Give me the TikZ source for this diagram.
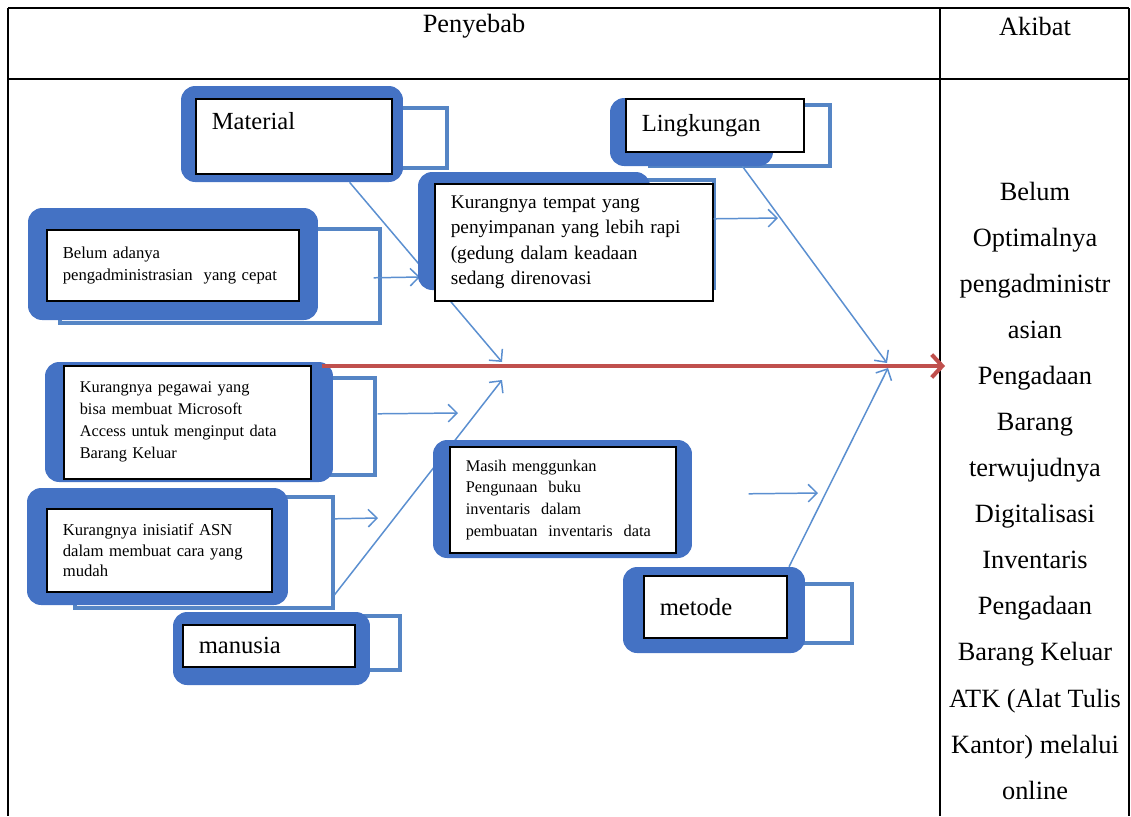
\documentclass[tikz,border=0pt]{standalone}
\usepackage{fontspec}
\setmainfont{Liberation Serif}
\usetikzlibrary{arrows.meta}
\usetikzlibrary{positioning}
\definecolor{boxblue}{HTML}{4472C4}
\definecolor{frameblue}{HTML}{5585C5}
\definecolor{boneblue}{HTML}{5B8FD0}
\definecolor{bonered}{HTML}{C0504D}
\tikzset{
  blue_box/.style = {
    fill = boxblue, rounded corners = 8pt, inner sep = 0pt  },
  in_box/.style = {
    draw, line width = 0.9pt, fill = white, anchor = north west,
    inner xsep = 0.32cm, inner ysep = 0pt, align = left  }
}

\begin{document}
\begin{tikzpicture}[x=0.02cm, y=-0.02cm,
tab_line/.style={draw=black, line width=0.7pt},
out_frame/.style={draw=frameblue, line width=2.2pt},
bone_style/.style={draw=boneblue, line width=0.85pt, -{Straight Barb[length=5pt,width=10pt]}},
main_bone/.style={draw=bonered, line width=2.3pt, -{Straight Barb[length=6pt,width=13pt]}},
head_txt/.style={font=\fontsize{15}{18}\selectfont, inner sep=0pt},
big_txt/.style={font=\fontsize{14}{17}\selectfont},
mid_txt/.style={font=\fontsize{11}{14.5}\selectfont},
small_txt/.style={font=\fontsize{9.3}{12.5}\selectfont},
res_txt/.style={font=\fontsize{15}{26.2}\selectfont, align=center, anchor=north, inner sep=0pt}]
\useasboundingbox (0,0) rectangle (1131,816);

% tabel
\draw[tab_line] (8,8) -- (1129,8);
\draw[tab_line] (8,79) -- (1129,79);
\foreach \x in {8,940,1129}{
 \draw[tab_line] (\x,8) -- (\x,816);
}
\node[head_txt] (penyebab) at (474,26) {Penyebab};
\node[head_txt] (akibat) at (1035,26) {Akibat};

% material
\draw[out_frame] (300,108) rectangle (447,168);
\node[blue_box, minimum width=4.44cm, minimum height=1.92cm] (matb) at (292,134) {};
\node[in_box, big_txt, text width=3.28cm, inner ysep=0.28cm, text height=0.34cm, text depth=0.6cm] (material) at (195,98) {Material};

\draw[out_frame] (60,229) rectangle (380,323);
\node[blue_box, minimum width=5.8cm, minimum height=2.24cm] (belb) at (173,264) {};
\node[in_box, small_txt, font=\fontsize{9.5}{12.5}\selectfont, text width=4.4cm, minimum height=1.42cm] (belum) at (46,229) {Belum adanya\\pengadministrasian\ \ yang cepat};

% lingkungan
\draw[out_frame] (650,105) rectangle (830,166);
\node[blue_box, minimum width=3.26cm, minimum height=1.36cm] (lingb) at (691.5,132) {};
\node[in_box, big_txt, text width=2.92cm, minimum height=1.06cm] (lingkungan) at (625,98) {Lingkungan};

% manusia
\draw[out_frame] (100,378) rectangle (375,475);
\node[blue_box, minimum width=5.76cm, minimum height=2.4cm] (pegb) at (189,422) {};
\node[in_box, small_txt, text width=4.3cm, minimum height=2.26cm] (pegawai) at (63,365) {Kurangnya pegawai yang\\bisa membuat Microsoft\\Access untuk menginput data\\Barang Keluar};

\draw[out_frame] (75,497) rectangle (333,608);
\node[blue_box, minimum width=5.22cm, minimum height=2.34cm] (inib) at (157.5,546.5) {};
\node[in_box, small_txt, font=\fontsize{9.5}{11.6}\selectfont, text width=3.86cm, minimum height=1.66cm] (inisiatif) at (46,508) {Kurangnya inisiatif ASN\\dalam membuat cara yang\\mudah};

\draw[out_frame] (300,616) rectangle (400,670);
\node[blue_box, minimum width=3.94cm, minimum height=1.46cm] (manb) at (271.5,648.5) {};
\node[in_box, big_txt, text width=2.8cm, minimum height=0.84cm] (manusia) at (182,624) {manusia};

% metode
\draw[out_frame] (760,584) rectangle (852,643);
\node[blue_box, minimum width=3.64cm, minimum height=1.72cm] (metb) at (714,610) {};
\node[in_box, big_txt, text width=2.22cm, minimum height=1.24cm] (metode) at (643,575) {metode};

% tulang
\coordinate (matEnd) at (502,362);
\coordinate (belEnd) at (420,277);
\coordinate (temEnd) at (778,218);
\coordinate (pegEnd) at (458,413);
\coordinate (iniEnd) at (378,518);
\coordinate (manEnd) at (502,380);
\coordinate (masEnd) at (818,493);
\coordinate (metEnd) at (888,368);
\coordinate (linEnd) at (887,363);
\coordinate (head) at (945,366);

\draw[bone_style] (matb.-40.6) -- (matEnd);
\draw[bone_style] ([xshift=1.48cm,yshift=-0.25cm]belum.east) -- (belEnd);
\draw[bone_style] (lingb.-34) -- (linEnd);
\draw[bone_style] ([xshift=1.32cm,yshift=0.17cm]pegawai.east) -- (pegEnd);
\draw[bone_style] ([xshift=1.24cm,yshift=0.63cm]inisiatif.east) -- (iniEnd);
\draw[bone_style] ([xshift=1.24cm,yshift=-0.89cm]inisiatif.east) -- (manEnd);
\draw[bone_style] (metb.30.5) -- (metEnd);
\draw[main_bone] ([xshift=0.2cm,yshift=-0.02cm]pegawai.north east) -- (head);

\draw[out_frame] (640,180) rectangle (714,288);
\node[blue_box, minimum width=4.64cm, minimum height=2.36cm] (temb) at (534,231) {};
\node[in_box, mid_txt, text width=4.92cm, minimum height=2.34cm] (tempat) at (434,183) {Kurangnya tempat yang\\penyimpanan yang lebih rapi\\(gedung dalam keadaan\\sedang direnovasi};
\draw[bone_style] ([yshift=0.47cm]tempat.east) -- (temEnd);

\node[blue_box, minimum width=5.18cm, minimum height=2.36cm] (masb) at (562.5,499) {};
\node[in_box, small_txt, font=\fontsize{9.3}{12.3}\selectfont, text width=3.88cm, minimum height=2.12cm] (masih) at (449,446) {Masih menggunkan\\Pengunaan\ \ buku\\inventaris\ \ dalam\\pembuatan\ \ inventaris\ \ data};
\draw[bone_style] ([xshift=1.44cm,yshift=0.12cm]masih.east) -- (masEnd);

% akibat
\node[res_txt] (hasil) at (1035,182) {Belum\\Optimalnya\\pengadministr\\asian\\Pengadaan\\Barang\\terwujudnya\\Digitalisasi\\Inventaris\\Pengadaan\\Barang Keluar\\ATK (Alat Tulis\\Kantor) melalui\\online};
\end{tikzpicture}
\end{document}
